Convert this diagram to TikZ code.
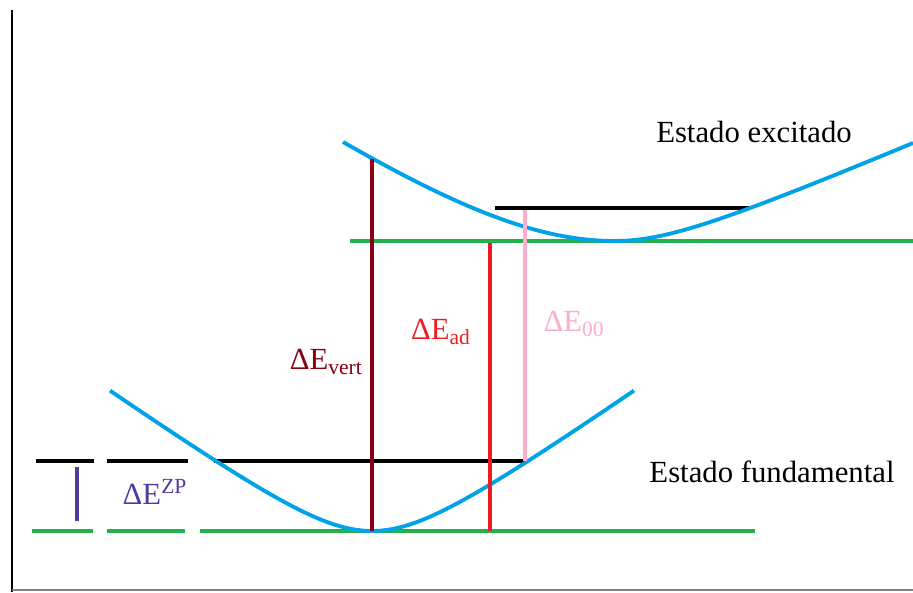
\documentclass[tikz,border=0pt]{standalone}
\usepackage{fontspec}
\setmainfont{Liberation Serif}
\usepackage{xcolor}
\usepackage{tikz}
\definecolor{azul}{HTML}{00A2E8}
\definecolor{verde}{HTML}{22B14C}
\definecolor{granate}{HTML}{880015}
\definecolor{rojo}{HTML}{ED1C24}
\definecolor{rosa}{HTML}{FFAEC9}
\definecolor{violeta}{HTML}{4B3DA0}

\begin{document}
\begin{tikzpicture}[x=0.02cm, y=-0.02cm,
    curva/.style={color=azul, line width=2.2pt, line join=round},
    nivel/.style={color=verde, line width=2.2pt},
    vib/.style={black, line width=2.2pt},
    transicion/.style={line width=2.2pt},
    etq/.style={font=\rmfamily\fontsize{17.5}{21}\selectfont, inner sep=0pt}]
    \useasboundingbox (0,0) rectangle (913,592);

    % Ejes (vertical negro, base gris)
    \draw[line width=1.6pt] (12,10) -- (12,592);
    \draw[gray, line width=0.6pt] (12,590) -- (913,590);

    % Estado fundamental: niveles (discontinuos a la izquierda)
    \draw[nivel] (32,531) -- (93,531);
    \draw[nivel] (107,531) -- (185,531);
    \draw[nivel] (200,531) -- (755,531);
    \draw[vib] (36,461) -- (94,461);
    \draw[vib] (107,461) -- (188,461);
    \draw[vib] (214,461) -- (528,461);

    % Estado excitado: niveles
    \draw[nivel] (350,241) -- (913,241);
    \draw[vib] (495,208) -- (750,208);

    % Curvas de energia potencial
    \draw[curva] plot[domain=-262:262, samples=90]
        ({372+\x}, {531-51.5*(sqrt(1+(\x/73)^2)-1)});
    \draw[curva] plot[domain=-272:0, samples=60]
        ({615+\x}, {241-132.7*(sqrt(1+(\x/190)^2)-1)})
        -- plot[domain=0:298, samples=60]
        ({615+\x}, {241-34.3*(sqrt(1+(\x/80)^2)-1)});

    % Transiciones
    \draw[transicion, color=violeta] (77,467) -- (77,521);
    \draw[transicion, color=granate] (372,159) -- (372,531);
    \draw[transicion, color=rojo] (490,243) -- (490,531);
    \draw[transicion, color=rosa] (525,210) -- (525,461);

    % Etiquetas
    \node[etq, text=violeta] (ezp) at (155,492) {ΔE\textsuperscript{ZP}};
    \node[etq, text=granate, anchor=east] (evert) at (363,362) {ΔE\textsubscript{vert}};
    \node[etq, text=rojo] (ead) at (441,332) {ΔE\textsubscript{ad}};
    \node[etq, text=rosa] (e00) at (574,324) {ΔE\textsubscript{00}};
    \node[etq] (exc) at (754,132) {Estado excitado};
    \node[etq] (fund) at (772,472) {Estado fundamental};

\end{tikzpicture}
\end{document}
